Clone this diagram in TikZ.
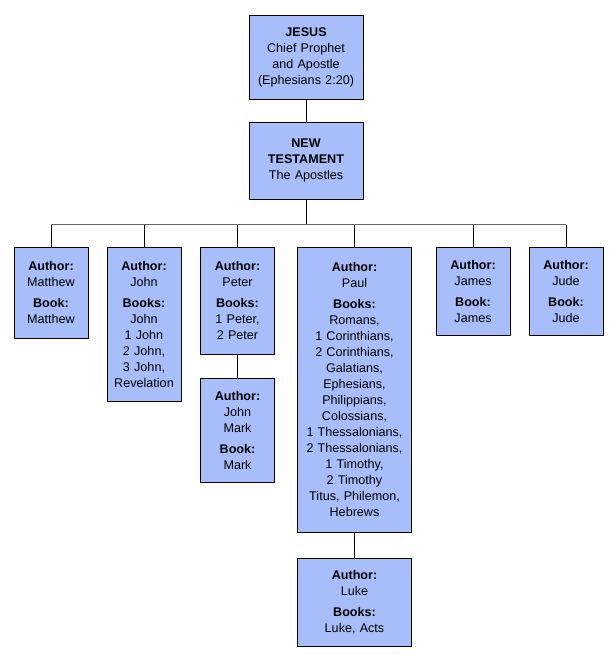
\documentclass[tikz,border=0pt]{standalone}
\usepackage{fontspec}
\setmainfont{Liberation Sans}
\usepackage{tikz}
\usetikzlibrary{positioning}
\definecolor{ntblue}{HTML}{A8BEFA}
\definecolor{ntink}{HTML}{000000}
\tikzset{
  box/.style={draw=ntink,fill=ntblue,line width=0.8pt,align=center,inner sep=2pt,text width=70pt,minimum width=74pt,anchor=north,font=\fontsize{12.6}{16}\selectfont},
  wide/.style={box,text width=110pt,minimum width=113pt},
  lnk/.style={draw=ntink,line width=0.8pt},
  bar/.style={draw=ntink!60,line width=0.8pt},
}
\newcommand{\hd}[1]{\textbf{#1}}
\begin{document}
\begin{tikzpicture}[x=1pt,y=1pt]
  \useasboundingbox (0,0) rectangle (613,-660);
  \node[wide,minimum height=84pt] (jesus) at (306,-15) {\hd{JESUS}\\Chief Prophet\\and Apostle\\(Ephesians 2:20)};
  \node[wide,minimum height=77pt,below=22pt of jesus] (nt) {\hd{NEW}\\\hd{TESTAMENT}\\The Apostles};
  \coordinate[below=25pt of nt.south] (hub);
  \node[box,minimum height=91pt] (matt) at (51,-247) {\hd{Author:}\\Matthew\\[5pt]\hd{Book:}\\Matthew};
  \node[box,minimum height=154pt] (john) at (144,-247) {\hd{Author:}\\John\\[5pt]\hd{Books:}\\John\\1 John\\2 John,\\3 John,\\Revelation};
  \node[box,minimum height=107pt] (peter) at (237.5,-247) {\hd{Author:}\\Peter\\[5pt]\hd{Books:}\\1 Peter,\\2 Peter};
  \node[box,minimum height=104pt,below=23pt of peter] (mark) {\hd{Author:}\\John\\Mark\\[5pt]\hd{Book:}\\Mark};
  \node[wide,minimum height=285pt] (paul) at (354.5,-247) {\hd{Author:}\\Paul\\[5pt]\hd{Books:}\\Romans,\\1 Corinthians,\\2 Corinthians,\\Galatians,\\Ephesians,\\Philippians,\\Colossians,\\1 Thessalonians,\\2 Thessalonians,\\1 Timothy,\\2 Timothy\\Titus, Philemon,\\Hebrews};
  \node[wide,minimum height=88pt,below=25pt of paul] (luke) {\hd{Author:}\\Luke\\[5pt]\hd{Books:}\\Luke, Acts};
  \node[box,minimum height=88pt] (james) at (473,-247) {\hd{Author:}\\James\\[5pt]\hd{Book:}\\James};
  \node[box,minimum height=88pt] (jude) at (566,-247) {\hd{Author:}\\Jude\\[5pt]\hd{Book:}\\Jude};
  % connectors
  \draw[lnk] (jesus) -- (nt);
  \draw[lnk] (nt) -- (hub);
  \draw[bar] (hub -| matt) -- (hub -| jude);
  \foreach \n in {matt,john,peter,paul,james,jude}
    \draw[lnk] (hub -| \n) -- (\n);
  \draw[lnk] (peter) -- (mark);
  \draw[lnk] (paul) -- (luke);
\end{tikzpicture}
\end{document}
